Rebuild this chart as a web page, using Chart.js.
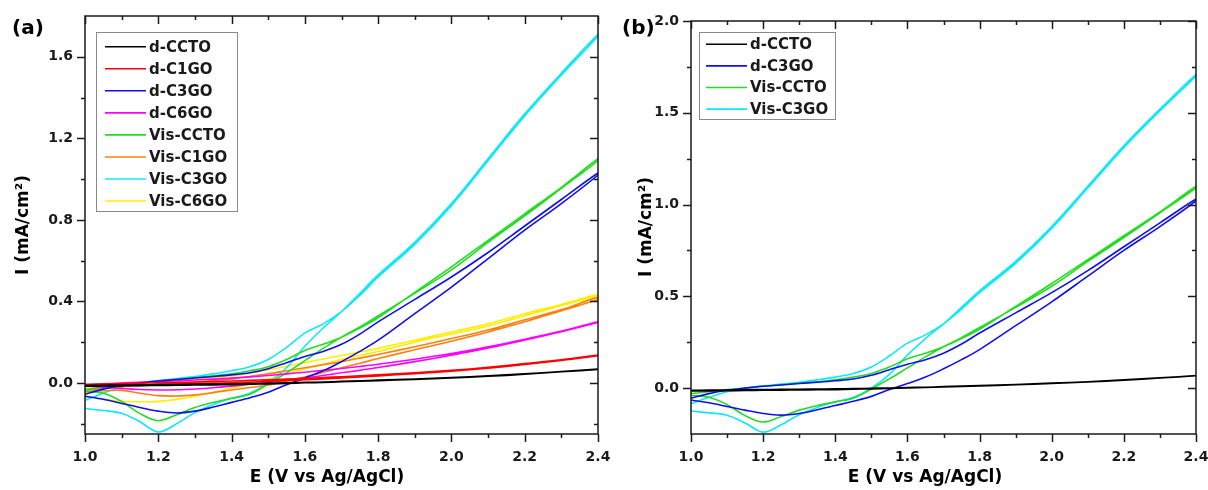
<!DOCTYPE html>
<html>
<head>
<meta charset="utf-8">
<script src="https://cdn.jsdelivr.net/npm/chart.js@4.4.0/dist/chart.umd.min.js"></script>
<style>
  html, body { margin: 0; padding: 0; background: #fff; }
  #wrap { position: relative; width: 1208px; height: 490px; }
  canvas { position: absolute; top: 0; }
</style>
</head>
<body>
<div id="wrap">
  <canvas id="chartA" width="620" height="490" style="left:0"></canvas>
  <canvas id="chartB" width="604" height="490" style="left:604px"></canvas>
</div>
<script>
// potential grid (V vs Ag/AgCl), shared by both sweeps
const potential = [1.0, 1.05, 1.1, 1.15, 1.2, 1.25, 1.3, 1.35, 1.4, 1.45, 1.5, 1.55, 1.6, 1.65, 1.7, 1.75, 1.8, 1.9, 2.0, 2.1, 2.2, 2.3, 2.4];

// current density (mA/cm2), upper branch (fwd) and lower branch (rev)
const dCCTO_fwd = [-0.012, -0.011, -0.010, -0.009, -0.008, -0.007, -0.006, -0.005, -0.004, -0.003, -0.001, 0.001, 0.003, 0.005, 0.008, 0.011, 0.014, 0.020, 0.027, 0.035, 0.045, 0.056, 0.068];
const dCCTO_rev = [-0.016, -0.015, -0.014, -0.013, -0.012, -0.011, -0.010, -0.009, -0.008, -0.006, -0.004, -0.002, 0.001, 0.003, 0.006, 0.009, 0.012, 0.018, 0.025, 0.033, 0.043, 0.055, 0.067];

const dC1GO_fwd = [-0.008, -0.005, -0.003, -0.001, 0.001, 0.003, 0.005, 0.007, 0.010, 0.013, 0.016, 0.019, 0.023, 0.027, 0.031, 0.035, 0.040, 0.050, 0.062, 0.077, 0.095, 0.114, 0.137];
const dC1GO_rev = [-0.012, -0.012, -0.011, -0.010, -0.008, -0.006, -0.004, -0.002, 0.001, 0.004, 0.008, 0.012, 0.016, 0.020, 0.025, 0.030, 0.035, 0.046, 0.058, 0.073, 0.091, 0.111, 0.134];

const dC3GO_fwd = [-0.055, -0.030, -0.012, 0.000, 0.010, 0.017, 0.025, 0.032, 0.040, 0.050, 0.070, 0.100, 0.130, 0.155, 0.190, 0.240, 0.300, 0.410, 0.520, 0.640, 0.770, 0.900, 1.030];
const dC3GO_rev = [-0.065, -0.080, -0.100, -0.120, -0.138, -0.147, -0.138, -0.118, -0.095, -0.072, -0.045, -0.008, 0.025, 0.060, 0.105, 0.155, 0.210, 0.340, 0.470, 0.610, 0.750, 0.880, 1.020];

const dC6GO_fwd = [-0.008, -0.004, 0.000, 0.004, 0.008, 0.011, 0.015, 0.019, 0.024, 0.030, 0.037, 0.045, 0.053, 0.062, 0.071, 0.081, 0.092, 0.117, 0.145, 0.178, 0.215, 0.255, 0.300];
const dC6GO_rev = [-0.014, -0.020, -0.027, -0.032, -0.034, -0.033, -0.029, -0.023, -0.015, -0.006, 0.004, 0.015, 0.026, 0.037, 0.050, 0.062, 0.076, 0.105, 0.137, 0.172, 0.211, 0.252, 0.297];

const visCCTO_fwd = [-0.030, -0.020, -0.008, 0.000, 0.010, 0.018, 0.027, 0.035, 0.045, 0.060, 0.080, 0.115, 0.160, 0.190, 0.225, 0.270, 0.320, 0.445, 0.570, 0.700, 0.830, 0.960, 1.100];
const visCCTO_rev = [-0.040, -0.050, -0.090, -0.150, -0.185, -0.155, -0.120, -0.095, -0.075, -0.055, -0.005, 0.050, 0.110, 0.170, 0.225, 0.275, 0.330, 0.440, 0.555, 0.690, 0.820, 0.955, 1.090];

const visC1GO_fwd = [-0.035, -0.025, -0.018, -0.013, -0.008, -0.002, 0.004, 0.012, 0.020, 0.032, 0.045, 0.060, 0.075, 0.090, 0.105, 0.122, 0.140, 0.178, 0.218, 0.260, 0.310, 0.360, 0.420];
const visC1GO_rev = [-0.042, -0.038, -0.036, -0.050, -0.062, -0.064, -0.058, -0.047, -0.034, -0.022, -0.010, 0.010, 0.030, 0.052, 0.075, 0.097, 0.120, 0.163, 0.205, 0.250, 0.300, 0.355, 0.410];

const visC3GO_fwd = [-0.085, -0.050, -0.020, 0.000, 0.012, 0.022, 0.032, 0.045, 0.060, 0.080, 0.115, 0.175, 0.245, 0.290, 0.350, 0.430, 0.520, 0.680, 0.870, 1.090, 1.310, 1.510, 1.700];
const visC3GO_rev = [-0.125, -0.135, -0.148, -0.190, -0.240, -0.200, -0.145, -0.105, -0.075, -0.050, 0.000, 0.075, 0.180, 0.270, 0.350, 0.440, 0.530, 0.690, 0.880, 1.100, 1.320, 1.520, 1.710];

const visC6GO_fwd = [-0.050, -0.020, -0.005, 0.003, 0.010, 0.015, 0.020, 0.027, 0.035, 0.048, 0.065, 0.082, 0.100, 0.118, 0.135, 0.152, 0.170, 0.210, 0.250, 0.290, 0.340, 0.385, 0.435];
const visC6GO_rev = [-0.062, -0.080, -0.090, -0.092, -0.090, -0.080, -0.065, -0.045, -0.025, -0.005, 0.020, 0.045, 0.070, 0.092, 0.115, 0.135, 0.155, 0.200, 0.240, 0.280, 0.330, 0.380, 0.430];

const seriesNames = ['d-CCTO', 'd-C1GO', 'd-C3GO', 'd-C6GO', 'Vis-CCTO', 'Vis-C1GO', 'Vis-C3GO', 'Vis-C6GO'];
const seriesNamesB = ['d-CCTO', 'd-C3GO', 'Vis-CCTO', 'Vis-C3GO'];

// tick labels
const xMajorTicks = [1.0, 1.2, 1.4, 1.6, 1.8, 2.0, 2.2, 2.4];
const xMinorTicks = [1.1, 1.3, 1.5, 1.7, 1.9, 2.1, 2.3];
const yMajorTicksA = [0.0, 0.4, 0.8, 1.2, 1.6];
const yMinorTicksA = [-0.2, 0.2, 0.6, 1.0, 1.4];
const yMajorTicksB = [0.0, 0.5, 1.0, 1.5, 2.0];
const yMinorTicksB = [0.25, 0.75, 1.25, 1.75];

const FONT = 'DejaVu Sans';
const INK = '#1a1a1a';

const seriesStyle = {
    'd-CCTO':   '#000000',
    'd-C1GO':   '#ff0000',
    'd-C3GO':   '#1010ee',
    'd-C6GO':   '#ff00ff',
    'Vis-CCTO': '#22dd22',
    'Vis-C1GO': '#ff8010',
    'Vis-C3GO': '#10e8f8',
    'Vis-C6GO': '#ffee00'
};

const sweeps = {
    'd-CCTO':   [dCCTO_fwd, dCCTO_rev],
    'd-C1GO':   [dC1GO_fwd, dC1GO_rev],
    'd-C3GO':   [dC3GO_fwd, dC3GO_rev],
    'd-C6GO':   [dC6GO_fwd, dC6GO_rev],
    'Vis-CCTO': [visCCTO_fwd, visCCTO_rev],
    'Vis-C1GO': [visC1GO_fwd, visC1GO_rev],
    'Vis-C3GO': [visC3GO_fwd, visC3GO_rev],
    'Vis-C6GO': [visC6GO_fwd, visC6GO_rev]
};

// forward sweep then the return sweep, as one loop
function buildLoop(name) {
    const [fwd, rev] = sweeps[name];
    const pts = potential.map((e, i) => ({ x: e, y: fwd[i] }));
    for (let i = potential.length - 1; i >= 0; i--) {
        pts.push({ x: potential[i], y: rev[i] });
    }
    return pts;
}

// frame, ticks, legend and labels drawn by hand (Origin look)
const decorPlugin = {
    id: 'decor',
    afterDraw(chart, args, opts) {
        const { ctx, chartArea: a, scales } = chart;
        const xs = scales.x, ys = scales.y;
        ctx.save();
        ctx.strokeStyle = INK;
        ctx.lineWidth = 1.5;

        const seg = (x1, y1, x2, y2) => {
            ctx.beginPath(); ctx.moveTo(x1, y1); ctx.lineTo(x2, y2); ctx.stroke();
        };
        // ticks: out on bottom/left, in on top/right
        xMajorTicks.concat(xMinorTicks).forEach(v => {
            const len = xMajorTicks.includes(v) ? 8 : 4;
            const px = Math.round(xs.getPixelForValue(v)) + 0.5;
            seg(px, a.bottom, px, a.bottom + len);
            seg(px, a.top, px, a.top + len);
        });
        opts.yMajor.concat(opts.yMinor).forEach(v => {
            const len = opts.yMajor.includes(v) ? 8 : 4;
            const py = Math.round(ys.getPixelForValue(v)) + 0.5;
            seg(a.left - len, py, a.left, py);
            seg(a.right - len, py, a.right, py);
        });

        ctx.strokeRect(a.left, a.top, a.right - a.left, a.bottom - a.top);

        // legend
        const lg = opts.legend;
        ctx.lineWidth = 1;
        ctx.strokeStyle = '#8a8a8a';
        ctx.strokeRect(lg.x + 0.5, lg.y + 0.5, lg.w, lg.h);
        ctx.font = `bold 15px "${FONT}"`;
        ctx.textBaseline = 'middle';
        ctx.textAlign = 'left';
        chart.data.datasets.forEach((ds, i) => {
            const y = lg.firstRow + i * lg.rowStep;
            ctx.strokeStyle = ds.borderColor;
            ctx.lineWidth = 1.6;
            seg(lg.lineX1, y, lg.lineX2, y);
            ctx.fillStyle = INK;
            ctx.fillText(ds.label, lg.textX, y + 1);
        });

        // panel tag
        ctx.fillStyle = '#000';
        ctx.font = `bold 20px "${FONT}"`;
        ctx.textBaseline = 'alphabetic';
        ctx.fillText(opts.tag, opts.tagX, opts.tagY);

        // axis titles
        ctx.font = `bold 17px "${FONT}"`;
        ctx.textAlign = 'center';
        ctx.textBaseline = 'middle';
        ctx.fillText('E (V vs Ag/AgCl)', opts.xTitleX, opts.xTitleY);
        ctx.save();
        ctx.translate(opts.yTitleX, opts.yTitleY);
        ctx.rotate(-Math.PI / 2);
        ctx.fillText('I (mA/cm\u00B2)', 0, 0);
        ctx.restore();

        ctx.restore();
    }
};

function makePanel(canvasId, names, yMin, yMax, yMajor, yMinor, layout) {
    const tickFont = { family: FONT, weight: 'bold', size: 14 };
    return new Chart(document.getElementById(canvasId), {
        type: 'scatter',
        data: {
            datasets: names.map(name => ({
                label: name,
                data: buildLoop(name),
                showLine: true,
                borderColor: seriesStyle[name],
                borderWidth: 1.6,
                pointRadius: 0,
                tension: 0.35,
                fill: false
            }))
        },
        options: {
            responsive: false,
            animation: false,
            events: [],
            layout: { padding: { left: 0, top: layout.top, right: layout.right, bottom: 0 } },
            scales: {
                x: {
                    type: 'linear',
                    min: 1.0,
                    max: 2.4,
                    afterBuildTicks: s => { s.ticks = xMajorTicks.map(v => ({ value: v })); },
                    afterFit: s => { s.height = 56; s.paddingLeft = 0; s.paddingRight = 0; },
                    ticks: {
                        callback: v => Number(v).toFixed(1),
                        font: tickFont, color: INK, padding: 15,
                        maxRotation: 0, autoSkip: false
                    },
                    grid: { display: false, drawTicks: false },
                    border: { display: false }
                },
                y: {
                    type: 'linear',
                    min: yMin,
                    max: yMax,
                    afterBuildTicks: s => { s.ticks = yMajor.map(v => ({ value: v })); },
                    afterFit: s => { s.width = layout.yWidth; s.paddingTop = 0; s.paddingBottom = 0; },
                    ticks: {
                        callback: v => Number(v).toFixed(1),
                        font: tickFont, color: INK, padding: 12,
                        autoSkip: false
                    },
                    grid: { display: false, drawTicks: false },
                    border: { display: false }
                }
            },
            plugins: {
                legend: { display: false },
                tooltip: { enabled: false },
                decor: Object.assign({ yMajor, yMinor }, layout.decor)
            }
        },
        plugins: [decorPlugin]
    });
}

makePanel('chartA', seriesNames, -0.25, 1.8, yMajorTicksA, yMinorTicksA, {
    top: 16, right: 22, yWidth: 85,
    decor: {
        tag: '(a)', tagX: 12, tagY: 34,
        xTitleX: 327, xTitleY: 478,
        yTitleX: 24, yTitleY: 225,
        legend: { x: 96, y: 32, w: 141, h: 179, firstRow: 46.7, rowStep: 22.05, lineX1: 105, lineX2: 146, textX: 149 }
    }
});

makePanel('chartB', seriesNamesB, -0.25, 2.0, yMajorTicksB, yMinorTicksB, {
    top: 21, right: 12, yWidth: 87,
    decor: {
        tag: '(b)', tagX: 18, tagY: 34,
        xTitleX: 321, xTitleY: 478,
        yTitleX: 43, yTitleY: 227,
        legend: { x: 95, y: 32, w: 136, h: 87, firstRow: 44.3, rowStep: 21.6, lineX1: 102, lineX2: 143, textX: 146 }
    }
});
</script>
</body>
</html>
